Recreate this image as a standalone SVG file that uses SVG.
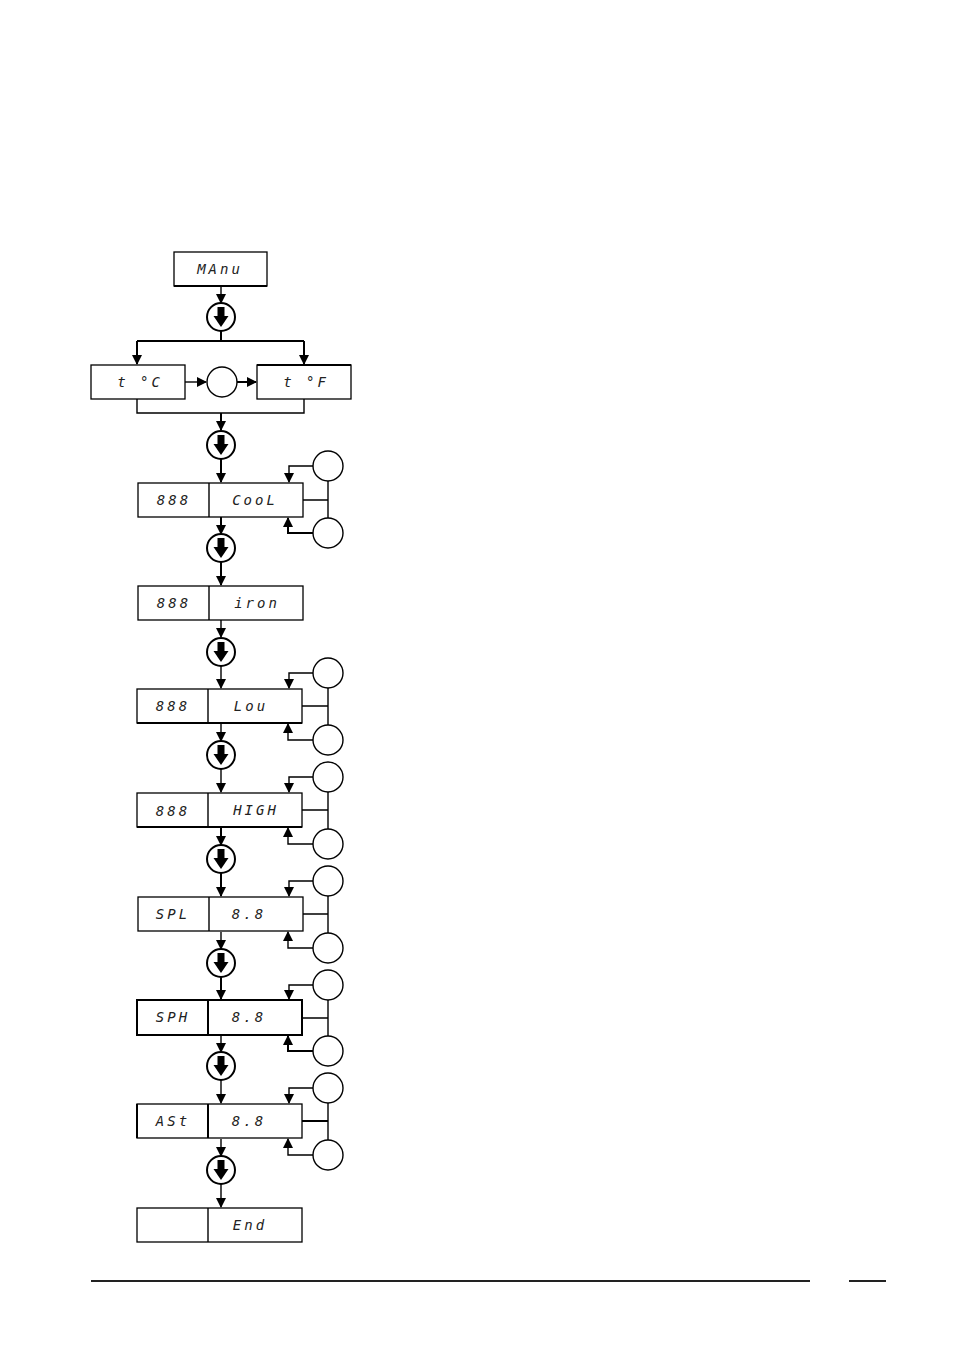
<svg xmlns="http://www.w3.org/2000/svg" width="954" height="1350" viewBox="0 0 954 1350">
<style>
.box{fill:#fff;stroke:#000;stroke-width:1.3}
.ln{fill:none;stroke:#000;stroke-width:1.4}
.thick{fill:none;stroke:#000;stroke-width:2}
.sc{fill:#fff;stroke:#000;stroke-width:1.4}
.t{font-family:"DejaVu Sans Mono",monospace;font-size:14px;font-style:italic;fill:#222;text-anchor:middle;letter-spacing:3px}
</style>
<defs>
<marker id="ah" markerWidth="10" markerHeight="10" refX="9" refY="5" orient="auto" markerUnits="userSpaceOnUse">
<path d="M0,0 L10,5 L0,10 Z" fill="#000"/>
</marker>
<g id="dc">
<circle cx="0" cy="0" r="14" fill="#fff" stroke="#000" stroke-width="2"/>
<rect x="-3.5" y="-10" width="7" height="10" fill="#000"/>
<path d="M-7.5,-1 L7.5,-1 L0,10 Z" fill="#000"/>
</g>
</defs>
<rect width="954" height="1350" fill="#fff"/>

<g id="connectors">
<path class="ln" d="M221,286 V303" marker-end="url(#ah)"/>
<path class="thick" d="M221,331 V341 M137,341 H304"/>
<path class="thick" d="M137,341 V364" marker-end="url(#ah)"/>
<path class="thick" d="M304,341 V364" marker-end="url(#ah)"/>
<path class="ln" d="M185,382 H206" marker-end="url(#ah)"/>
<path class="thick" d="M237,382 H256" marker-end="url(#ah)"/>
<path class="ln" d="M137,399 V413 H304 V399"/>
<path class="thick" d="M221,413 V430" marker-end="url(#ah)"/>
<path class="thick" d="M221,459 V482" marker-end="url(#ah)"/>
<path class="ln" d="M303,500 H328 M328,481 V518"/>
<path class="ln" d="M313,466 H289 V482" marker-end="url(#ah)"/>
<path class="thick" d="M313,533 H288 V518" marker-end="url(#ah)"/>
<path class="thick" d="M221,517 V534" marker-end="url(#ah)"/>
<path class="thick" d="M221,562 V585" marker-end="url(#ah)"/>
<path class="ln" d="M221,620 V637" marker-end="url(#ah)"/>
<path class="ln" d="M221,666 V688" marker-end="url(#ah)"/>
<path class="ln" d="M302,706 H328 M328,688 V725"/>
<path class="ln" d="M313,673 H289 V688" marker-end="url(#ah)"/>
<path class="ln" d="M313,740 H288 V724" marker-end="url(#ah)"/>
<path class="ln" d="M221,724 V741" marker-end="url(#ah)"/>
<path class="ln" d="M221,769 V792" marker-end="url(#ah)"/>
<path class="ln" d="M302,810 H328 M328,792 V829"/>
<path class="ln" d="M313,777 H289 V792" marker-end="url(#ah)"/>
<path class="ln" d="M313,844 H288 V828" marker-end="url(#ah)"/>
<path class="thick" d="M221,828 V845" marker-end="url(#ah)"/>
<path class="thick" d="M221,873 V896" marker-end="url(#ah)"/>
<path class="ln" d="M303,914 H328 M328,896 V933"/>
<path class="ln" d="M313,881 H289 V896" marker-end="url(#ah)"/>
<path class="ln" d="M313,948 H288 V932" marker-end="url(#ah)"/>
<path class="ln" d="M221,932 V949" marker-end="url(#ah)"/>
<path class="thick" d="M221,977 V999" marker-end="url(#ah)"/>
<path class="ln" d="M302,1018 H328 M328,1000 V1036"/>
<path class="ln" d="M313,985 H289 V999" marker-end="url(#ah)"/>
<path class="thick" d="M313,1051 H288 V1036" marker-end="url(#ah)"/>
<path class="ln" d="M221,1036 V1052" marker-end="url(#ah)"/>
<path class="ln" d="M221,1080 V1103" marker-end="url(#ah)"/>
<path class="thick" d="M302,1121 H328"/>
<path class="ln" d="M328,1103 V1140"/>
<path class="ln" d="M313,1088 H289 V1103" marker-end="url(#ah)"/>
<path class="ln" d="M313,1155 H288 V1139" marker-end="url(#ah)"/>
<path class="ln" d="M221,1139 V1156" marker-end="url(#ah)"/>
<path class="ln" d="M221,1184 V1207" marker-end="url(#ah)"/>
</g>

<g id="n-manu">
<rect class="box" x="174" y="252" width="93" height="34"/>
<line x1="174" y1="286" x2="267" y2="286" stroke="#000" stroke-width="2"/>
<text class="t" x="220" y="274">MAnu</text>
</g>
<g id="n-dc1"><use href="#dc" x="221" y="317"/></g>
<g id="n-tc">
<rect class="box" x="91" y="365" width="94" height="34"/>
<text class="t" x="140" y="387">t °C</text>
</g>
<g id="n-sw"><circle class="sc" cx="222" cy="382" r="15"/></g>
<g id="n-tf">
<rect class="box" x="257" y="365" width="94" height="34"/>
<line x1="257" y1="365" x2="351" y2="365" stroke="#000" stroke-width="2"/>
<text class="t" x="306" y="387">t °F</text>
</g>
<g id="n-dc2"><use href="#dc" x="221" y="445"/></g>

<g id="n-cool">
<rect class="box" x="138" y="483" width="165" height="34"/>
<line class="ln" x1="209" y1="483" x2="209" y2="517"/>
<text class="t" x="174" y="505">888</text>
<text class="t" x="255" y="505">CooL</text>
</g>
<g id="n-cool-up"><circle class="sc" cx="328" cy="466" r="15"/></g>
<g id="n-cool-dn"><circle class="sc" cx="328" cy="533" r="15"/></g>
<g id="n-dc3"><use href="#dc" x="221" y="548"/></g>

<g id="n-iron">
<rect class="box" x="138" y="586" width="165" height="34"/>
<line class="ln" x1="209" y1="586" x2="209" y2="620"/>
<text class="t" x="174" y="608">888</text>
<text class="t" x="257" y="608">iron</text>
</g>
<g id="n-dc4"><use href="#dc" x="221" y="652"/></g>

<g id="n-lou">
<rect class="box" x="137" y="689" width="165" height="34"/>
<line x1="137" y1="723" x2="302" y2="723" stroke="#000" stroke-width="2"/>
<line class="ln" x1="208" y1="689" x2="208" y2="723"/>
<text class="t" x="173" y="711">888</text>
<text class="t" x="251" y="711">Lou</text>
</g>
<g id="n-lou-up"><circle class="sc" cx="328" cy="673" r="15"/></g>
<g id="n-lou-dn"><circle class="sc" cx="328" cy="740" r="15"/></g>
<g id="n-dc5"><use href="#dc" x="221" y="755"/></g>

<g id="n-high">
<rect class="box" x="137" y="793" width="165" height="34"/>
<line x1="137" y1="827" x2="302" y2="827" stroke="#000" stroke-width="2"/>
<line class="ln" x1="208" y1="793" x2="208" y2="827"/>
<text class="t" x="173" y="816">888</text>
<text class="t" x="256" y="815">HIGH</text>
</g>
<g id="n-high-up"><circle class="sc" cx="328" cy="777" r="15"/></g>
<g id="n-high-dn"><circle class="sc" cx="328" cy="844" r="15"/></g>
<g id="n-dc6"><use href="#dc" x="221" y="859"/></g>

<g id="n-spl">
<rect class="box" x="138" y="897" width="165" height="34"/>
<line class="ln" x1="209" y1="897" x2="209" y2="931"/>
<text class="t" x="173" y="919">SPL</text>
<text class="t" x="249" y="919">8.8</text>
</g>
<g id="n-spl-up"><circle class="sc" cx="328" cy="881" r="15"/></g>
<g id="n-spl-dn"><circle class="sc" cx="328" cy="948" r="15"/></g>
<g id="n-dc7"><use href="#dc" x="221" y="963"/></g>

<g id="n-sph">
<rect x="137" y="1000" width="165" height="35" fill="#fff" stroke="#000" stroke-width="2"/>
<line class="thick" x1="208" y1="1000" x2="208" y2="1035"/>
<text class="t" x="173" y="1022">SPH</text>
<text class="t" x="249" y="1022">8.8</text>
</g>
<g id="n-sph-up"><circle class="sc" cx="328" cy="985" r="15"/></g>
<g id="n-sph-dn"><circle class="sc" cx="328" cy="1051" r="15"/></g>
<g id="n-dc8"><use href="#dc" x="221" y="1066"/></g>

<g id="n-ast">
<rect class="box" x="137" y="1104" width="165" height="34"/>
<line x1="137" y1="1104" x2="137" y2="1138" stroke="#000" stroke-width="2"/>
<line class="thick" x1="208" y1="1104" x2="208" y2="1138"/>
<text class="t" x="173" y="1126">ASt</text>
<text class="t" x="249" y="1126">8.8</text>
</g>
<g id="n-ast-up"><circle class="sc" cx="328" cy="1088" r="15"/></g>
<g id="n-ast-dn"><circle class="sc" cx="328" cy="1155" r="15"/></g>
<g id="n-dc9"><use href="#dc" x="221" y="1170"/></g>

<g id="n-end">
<rect class="box" x="137" y="1208" width="165" height="34"/>
<line class="ln" x1="208" y1="1208" x2="208" y2="1242"/>
<text class="t" x="250" y="1230">End</text>
</g>

<g id="footer">
<line x1="91" y1="1281" x2="810" y2="1281" stroke="#222" stroke-width="2"/>
<line x1="849" y1="1281" x2="886" y2="1281" stroke="#222" stroke-width="2"/>
</g>
</svg>
